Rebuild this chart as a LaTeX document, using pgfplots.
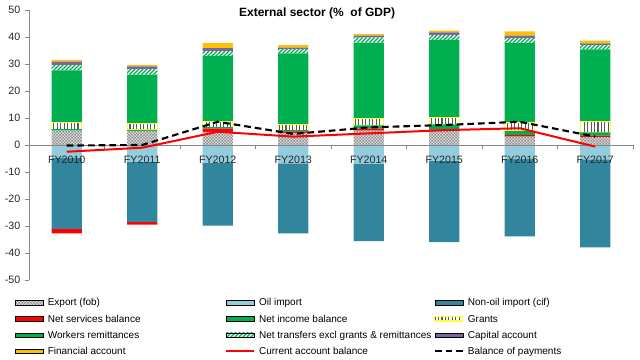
\documentclass[border=0pt]{standalone}
\usepackage{fontspec}
\setmainfont{Liberation Sans}
\usepackage{pgfplots}
\pgfplotsset{compat=1.18}
\usetikzlibrary{patterns}
\definecolor{oilc}{HTML}{93CDDD}
\definecolor{nonoilc}{HTML}{31859C}
\definecolor{grnc}{HTML}{00B050}
\definecolor{purc}{HTML}{8064A2}
\definecolor{finc}{HTML}{FFC000}
\definecolor{yelc}{HTML}{FFFF33}
\definecolor{axc}{HTML}{868686}
% inherently coloured patterns (colour kept by xdvipdfmx)
\pgfdeclarepatterninherentlycolored{exportpat}{\pgfpointorigin}{\pgfqpoint{2.2pt}{2.2pt}}{\pgfqpoint{2.2pt}{2.2pt}}{%
  \pgfsetfillcolor{black!12}%
  \pgfpathrectangle{\pgfpointorigin}{\pgfqpoint{2.2pt}{2.2pt}}\pgfusepath{fill}%
  \pgfsetfillcolor{black!45}%
  \pgfpathrectangle{\pgfpointorigin}{\pgfqpoint{1.1pt}{1.1pt}}\pgfusepath{fill}%
  \pgfpathrectangle{\pgfqpoint{1.1pt}{1.1pt}}{\pgfqpoint{1.1pt}{1.1pt}}\pgfusepath{fill}%
}
\pgfdeclarepatterninherentlycolored{grantpat}{\pgfqpoint{-1pt}{-1pt}}{\pgfqpoint{3.6pt}{3pt}}{\pgfqpoint{2.6pt}{2pt}}{%
  \pgfsetstrokecolor{black!65}%
  \pgfsetlinewidth{0.8pt}%
  \pgfpathmoveto{\pgfqpoint{1.3pt}{-1pt}}\pgfpathlineto{\pgfqpoint{1.3pt}{3pt}}\pgfusepath{stroke}%
}
\pgfdeclarepatterninherentlycolored{transpat}{\pgfqpoint{-1pt}{-1pt}}{\pgfqpoint{4pt}{4pt}}{\pgfqpoint{3pt}{3pt}}{%
  \pgfsetstrokecolor{grnc}%
  \pgfsetlinewidth{1pt}%
  \pgfpathmoveto{\pgfqpoint{0pt}{0pt}}\pgfpathlineto{\pgfqpoint{3.1pt}{3.1pt}}\pgfusepath{stroke}%
}
\newcommand{\legtxt}[2][133pt]{\makebox[#1][l]{\strut #2}}
\pgfplotsset{
  base/.style={
    at={(21.75pt,60pt)}, anchor=south west,
    scale only axis, width=453pt, height=202.5pt,
    xmin=0, xmax=8, ymin=-50, ymax=50,
    enlargelimits=false, clip=false,
  },
  barleg/.style={legend image code/.code={\draw[##1] (0pt,-1.6pt) rectangle (21pt,1.6pt);}},
  lineleg/.style={legend image code/.code={\draw[##1] (0pt,0pt) -- (21pt,0pt);}},
}
\begin{document}
\begin{tikzpicture}
\useasboundingbox (0,0) rectangle (480pt,270pt);
% ---------- negative stack + axes ----------
\begin{axis}[base, ybar stacked, bar width=0.4, axis on top,
  axis y line*=left, axis x line*=middle,
  axis line style={axc, line width=0.6pt},
  ytick={-50,-40,...,50},
  xtick={0.5,1.5,...,7.5},
  xticklabels={FY2010,FY2011,FY2012,FY2013,FY2014,FY2015,FY2016,FY2017},
  minor xtick={0,1,...,8},
  major x tick style={draw=none},
  minor x tick style={axc, line width=0.6pt},
  ytick style={axc, line width=0.6pt},
  tick align=outside,
  major tick length=3pt, minor tick length=3pt,
  tick label style={font=\fontsize{8}{9.6}\selectfont, text=black!85},
  /pgf/number format/assume math mode=true,
  xticklabel style={yshift=-1.5pt},
  title={External sector (\%\ \ of GDP)},
  title style={at={(0.477,0.987)}, anchor=center, yshift=-6pt, font=\bfseries\fontsize{9}{11}\selectfont},
]
\addplot[fill=oilc, draw=none] coordinates {(0.5,-4.8) (1.5,-6.2) (2.5,-6.5) (3.5,-6.8) (4.5,-7.0) (5.5,-5.9) (6.5,-5.2) (7.5,-5.3)};
\addplot[fill=nonoilc, draw=none] coordinates {(0.5,-26.3) (1.5,-22.4) (2.5,-23.4) (3.5,-25.9) (4.5,-28.6) (5.5,-30.1) (6.5,-28.6) (7.5,-32.6)};
\addplot[fill=red, draw=none] coordinates {(0.5,-1.6) (1.5,-0.9) (2.5,0) (3.5,0) (4.5,0) (5.5,0) (6.5,0) (7.5,0)};
\end{axis}
% ---------- positive stack ----------
\begin{axis}[base, hide axis, ybar stacked, bar width=0.4]
\addplot[pattern=exportpat, draw=none] coordinates {(0.5,5.3) (1.5,5.2) (2.5,4.9) (3.5,4.5) (4.5,5.3) (5.5,5.5) (6.5,3.1) (7.5,2.9)};
\addplot[fill=red, draw=none] coordinates {(0.5,0) (1.5,0) (2.5,1.2) (3.5,0.5) (4.5,0.8) (5.5,0.3) (6.5,0.6) (7.5,0.6)};
\addplot[fill=grnc, draw=none] coordinates {(0.5,0.6) (1.5,0.4) (2.5,0.5) (3.5,0.5) (4.5,1.2) (5.5,1.8) (6.5,1.5) (7.5,1.2)};
\addplot[pattern=grantpat, draw=yelc, line width=0.8pt] coordinates {(0.5,2.4) (1.5,2.2) (2.5,2.2) (3.5,2.1) (4.5,2.5) (5.5,2.5) (6.5,3.2) (7.5,3.95)};
\addplot[fill=grnc, draw=none] coordinates {(0.5,19.3) (1.5,18.3) (2.5,24.2) (3.5,26.3) (4.5,28.1) (5.5,28.8) (6.5,29.3) (7.5,26.8)};
\addplot[pattern=transpat, draw=none] coordinates {(0.5,2.1) (1.5,2.1) (2.5,1.85) (3.5,1.6) (4.5,2.0) (5.5,1.85) (6.5,1.85) (7.5,1.6)};
\addplot[fill=purc, draw=none] coordinates {(0.5,1.2) (1.5,0.9) (2.5,1.0) (3.5,0.6) (4.5,0.6) (5.5,1.0) (6.5,1.0) (7.5,0.6)};
\addplot[fill=finc, draw=none] coordinates {(0.5,0.6) (1.5,0.5) (2.5,1.85) (3.5,0.85) (4.5,0.6) (5.5,0.6) (6.5,1.5) (7.5,1.0)};
\end{axis}
% ---------- lines + legend ----------
\begin{axis}[base, hide axis,
  legend columns=3,
  legend cell align=left,
  legend style={at={(-0.0232,-0.064)}, anchor=north west, draw=none, fill=none,
    font=\fontsize{7.5}{9}\selectfont, inner sep=0pt,
    nodes={inner sep=0pt},
    row sep=4.3pt,
    /tikz/every odd column/.append style={column sep=3pt}},
]
\addlegendimage{barleg, pattern=exportpat, draw=none}
\addlegendentry{\legtxt{Export (fob)}}
\addlegendimage{barleg, fill=oilc, draw=none}
\addlegendentry{\legtxt[131pt]{Oil import}}
\addlegendimage{barleg, fill=nonoilc, draw=none}
\addlegendentry{\strut Non-oil import (cif)}
\addlegendimage{barleg, fill=red, draw=none}
\addlegendentry{\legtxt{Net services balance}}
\addlegendimage{barleg, fill=grnc, draw=none}
\addlegendentry{\legtxt[131pt]{Net income balance}}
\addlegendimage{barleg, pattern=grantpat, draw=yelc, line width=0.8pt}
\addlegendentry{\strut Grants}
\addlegendimage{barleg, fill=grnc, draw=none}
\addlegendentry{\legtxt{Workers remittances}}
\addlegendimage{barleg, pattern=transpat, draw=none}
\addlegendentry{\legtxt[131pt]{Net transfers excl grants \& remittances}}
\addlegendimage{barleg, fill=purc, draw=none}
\addlegendentry{\strut Capital account}
\addlegendimage{barleg, fill=finc, draw=none}
\addlegendentry{\legtxt{Financial account}}
\addplot[lineleg, red, line width=1.5pt] coordinates {(0.5,-2.5) (1.5,-1.0) (2.5,4.9) (3.5,3.1) (4.5,4.3) (5.5,5.5) (6.5,6.2) (7.5,-0.6)};
\addlegendentry{\legtxt[131pt]{Current account balance}}
\addplot[lineleg, black, line width=1.6pt, dash pattern=on 5pt off 3pt] coordinates {(0.5,-0.2) (1.5,0.0) (2.5,8.6) (3.5,4.1) (4.5,6.5) (5.5,7.4) (6.5,8.6) (7.5,3.1)};
\addlegendentry{\strut Balance of payments}
\end{axis}
\end{tikzpicture}
\end{document}
